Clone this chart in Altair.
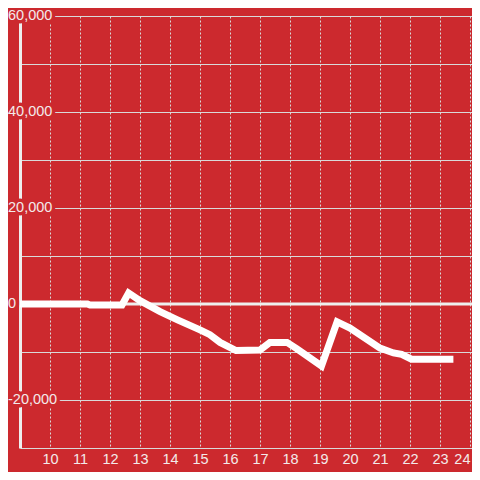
import altair as alt
import pandas as pd

# ---- data ----
hours = [9.0, 11.25, 11.33, 12.4, 12.62, 13.0, 13.67, 14.25, 15.0, 15.33, 15.67,
         16.2, 17.0, 17.33, 17.9, 18.22, 19.05, 19.57, 20.0, 21.0, 21.45, 21.72,
         22.05, 23.33]
values = [0, 0, -200, -200, 2300, 700, -1600, -3300, -5400, -6400, -8000,
          -9700, -9600, -8000, -8000, -9300, -12900, -3700, -5000, -9200, -10200,
          -10500, -11500, -11500]

x_ticks = list(range(10, 25))
y_grid = [-20000, -10000, 0, 10000, 20000, 30000, 40000, 50000, 60000]
y_label_values = [-20000, 0, 20000, 40000, 60000]
y_label_texts = ["-20,000", "0", "20,000", "40,000", "60,000"]

BG = "#cc292e"
FONT = "Liberation Sans"
LABEL = "#f3eaea"
GRID = "#d9d9d9"

df_line = pd.DataFrame({"hour": hours, "value": values})
df_zero = pd.DataFrame({"value": [0]})
df_lab = pd.DataFrame({"value": y_label_values, "label": y_label_texts})

x_scale = alt.Scale(domain=[9, 24.0667], nice=False, zero=False)
y_scale = alt.Scale(domain=[-30000, 60000], nice=False, zero=False)

x_axis = alt.Axis(values=x_ticks, grid=True, gridDash=[2, 2], gridColor=GRID,
                  gridWidth=1, domainColor=GRID, domainWidth=1, ticks=False,
                  labelColor=LABEL, labelFontSize=14.5, labelFont=FONT,
                  labelPadding=4, labelFlush=4, labelOverlap=False,
                  format="d", title=None)
y_axis = alt.Axis(values=y_grid, grid=True, gridColor=GRID, gridWidth=1,
                  labels=False, ticks=False, domainColor="#eeeeee",
                  domainWidth=3, title=None)

zero = alt.Chart(df_zero).mark_rule(color="#eeeeee", strokeWidth=3).encode(
    y=alt.Y("value:Q", scale=y_scale, axis=y_axis)
)

halo = alt.Chart(df_lab).mark_text(
    align="left", baseline="middle", font=FONT, fontSize=14.5,
    fill=BG, stroke=BG, strokeWidth=7, strokeJoin="round"
).encode(
    x=alt.value(-12),
    y=alt.Y("value:Q", scale=y_scale, axis=y_axis),
    text="label:N",
)

labels = alt.Chart(df_lab).mark_text(
    align="left", baseline="middle", font=FONT, fontSize=14.5, fill=LABEL
).encode(
    x=alt.value(-12),
    y=alt.Y("value:Q", scale=y_scale, axis=y_axis),
    text="label:N",
)

line = alt.Chart(df_line).mark_line(
    color="white", strokeWidth=7, strokeCap="square", clip=True
).encode(
    x=alt.X("hour:Q", scale=x_scale, axis=x_axis),
    y=alt.Y("value:Q", scale=y_scale, axis=y_axis),
    order="hour:Q",
)

chart = alt.layer(zero, halo, labels, line).properties(
    width=452,
    height=432,
    autosize=alt.AutoSizeParams(type="none"),
    padding={"left": 12, "top": 8, "right": 0, "bottom": 24},
    background=BG,
).configure_view(stroke=None)

chart.save("out.html", embed_options={"renderer": "svg", "actions": False})
